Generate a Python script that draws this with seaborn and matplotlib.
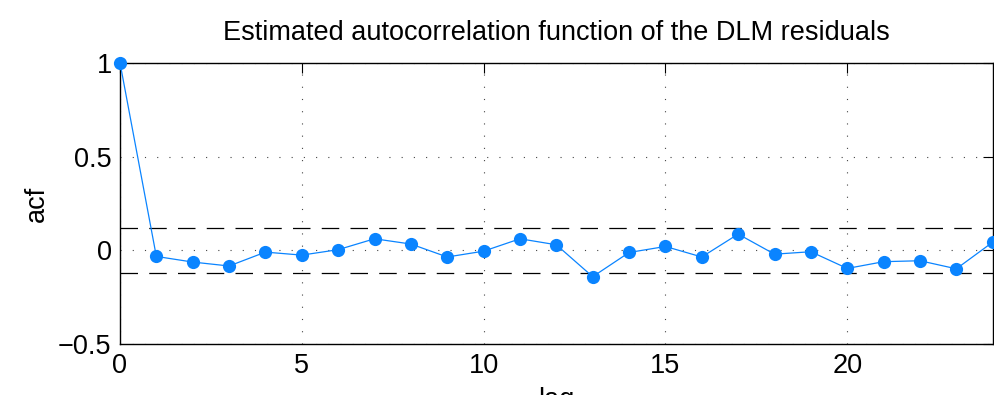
import numpy as np
import pandas as pd
import matplotlib
matplotlib.use("Agg")
import matplotlib.pyplot as plt
import seaborn as sns

# Sample autocorrelation of the DLM residuals, lags 0..24
lags = list(range(25))
acf_values = [1.0, -0.032, -0.062, -0.083, -0.009, -0.025, 0.004, 0.062, 0.034,
              -0.035, -0.004, 0.062, 0.030, -0.140, -0.011, 0.021, -0.035, 0.087,
              -0.020, -0.007, -0.096, -0.060, -0.055, -0.098, 0.044]
conf_bound = 0.12

x_ticks = [0, 5, 10, 15, 20]
y_ticks = [-0.5, 0, 0.5, 1]
y_tick_labels = ["\u22120.5", "0", "0.5", "1"]

sns.set_theme(style="white")
plt.rcParams["font.family"] = ["Liberation Sans", "DejaVu Sans"]
plt.rcParams["text.color"] = "black"
plt.rcParams["axes.labelcolor"] = "black"

df = pd.DataFrame({"lag": lags, "acf": acf_values})

fig = plt.figure(figsize=(9.94, 3.95), dpi=100)
ax = fig.add_axes([0.1207, 0.1284, 0.8780, 0.7129])

ax.axhline(conf_bound, color="black", lw=0.9, ls=(0, (14, 9)), zorder=2)
ax.axhline(-conf_bound, color="black", lw=0.9, ls=(0, (14, 9)), zorder=2)

sns.lineplot(data=df, x="lag", y="acf", ax=ax, color="#0a84ff", lw=0.9,
             marker="o", markersize=9.5, markeredgewidth=0,
             clip_on=False, zorder=4)

ax.set_xlim(0, 24)
ax.set_ylim(-0.5, 1)
ax.set_xticks(x_ticks)
ax.set_yticks(y_ticks)
ax.set_yticklabels(y_tick_labels)

ax.grid(True, color="#444444", ls=(0, (1, 10)), lw=0.8)
ax.tick_params(direction="in", length=7, width=0.8, top=True, right=True,
               labelsize=19.5, colors="black", pad=6)
for side in ax.spines.values():
    side.set_color("black")
    side.set_linewidth(1.0)
    side.set_visible(True)

ax.set_title("Estimated autocorrelation function of the DLM residuals",
             fontsize=19.5, pad=16, color="black")
ax.set_xlabel("lag", fontsize=19.5, labelpad=6)
ax.set_ylabel("acf", fontsize=19.5, labelpad=6)

fig.savefig("out.png", dpi=100)
